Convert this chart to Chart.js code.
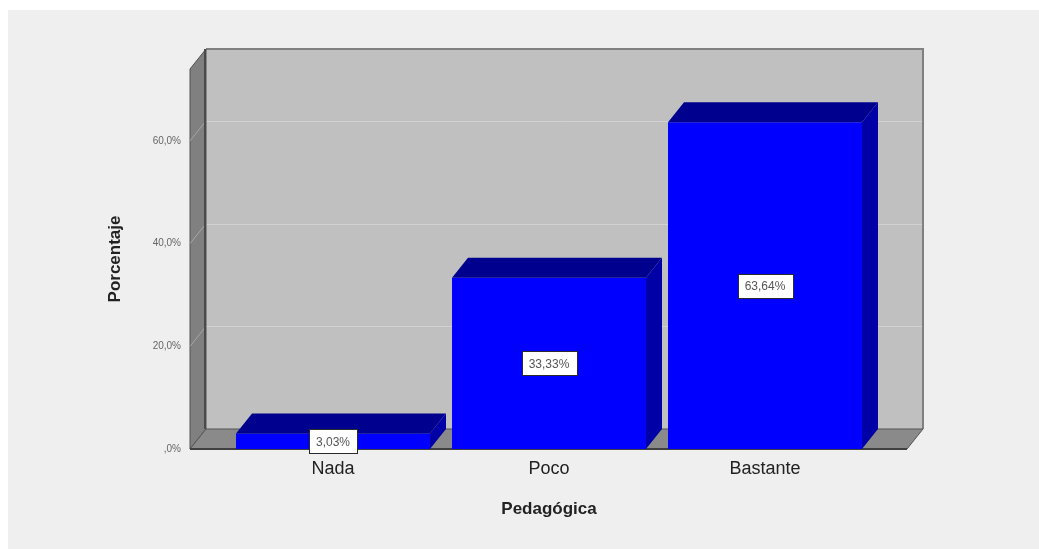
<!DOCTYPE html>
<html>
<head>
<meta charset="utf-8">
<script src="https://cdn.jsdelivr.net/npm/chart.js@4.4.0/dist/chart.umd.min.js"></script>
<style>
  html, body { margin: 0; padding: 0; background: #ffffff; overflow: hidden; }
  canvas { display: block; }
</style>
</head>
<body>
<canvas id="chart" width="1039" height="549"></canvas>
<script>
// Series data
const categories = ['Nada', 'Poco', 'Bastante'];
const percentages = [3.03, 33.33, 63.64];
const yTickValues = [0, 20, 40, 60];
const yTickLabels = [',0%', '20,0%', '40,0%', '60,0%'];
const yAxisMax = 74;

const FONT = '"Liberation Sans", Arial, sans-serif';
const DEPTH_X = 16;   // 3D extrusion, horizontal
const DEPTH_Y = 20;   // 3D extrusion, vertical
const SIDE_PAD_L = 35;
const SIDE_PAD_R = 34;

function formatPct(v) {
  return v.toFixed(2).replace('.', ',') + '%';
}

function poly(ctx, pts, fill, stroke) {
  ctx.beginPath();
  ctx.moveTo(pts[0][0], pts[0][1]);
  for (let i = 1; i < pts.length; i++) ctx.lineTo(pts[i][0], pts[i][1]);
  ctx.closePath();
  if (fill) { ctx.fillStyle = fill; ctx.fill(); }
  if (stroke) { ctx.strokeStyle = stroke; ctx.lineWidth = 1; ctx.stroke(); }
}

const box3d = {
  id: 'box3d',
  beforeDraw(chart) {
    const ctx = chart.ctx;
    ctx.save();
    ctx.fillStyle = '#ffffff';
    ctx.fillRect(0, 0, chart.width, chart.height);
    ctx.fillStyle = '#efefef';
    ctx.fillRect(8, 10, chart.width - 8, chart.height - 10);
    ctx.restore();
  },
  beforeDatasetsDraw(chart) {
    const ctx = chart.ctx;
    const ca = chart.chartArea;
    const y = chart.scales.y;
    const L = ca.left - SIDE_PAD_L, R = ca.right + SIDE_PAD_R;
    const B = y.getPixelForValue(0), T = y.getPixelForValue(yAxisMax);
    const dx = DEPTH_X, dy = DEPTH_Y;
    ctx.save();
    // back wall
    poly(ctx, [[L + dx, T - dy], [R + dx, T - dy], [R + dx, B - dy], [L + dx, B - dy]], '#c0c0c0', null);
    // grid lines on the back wall
    yTickValues.forEach(v => {
      if (v === 0) return;
      const yb = Math.round(y.getPixelForValue(v) - dy) + 0.5;
      ctx.strokeStyle = '#d2d2d2';
      ctx.lineWidth = 1;
      ctx.beginPath();
      ctx.moveTo(L + dx, yb); ctx.lineTo(R + dx, yb);
      ctx.stroke();
    });
    // wall top & right edges
    ctx.strokeStyle = '#808080';
    ctx.lineWidth = 2;
    ctx.beginPath();
    ctx.moveTo(L + dx, T - dy); ctx.lineTo(R + dx, T - dy); ctx.lineTo(R + dx, B - dy);
    ctx.stroke();
    // left side wall
    poly(ctx, [[L, B], [L, T], [L + dx, T - dy], [L + dx, B - dy]], '#808080', '#505050');
    yTickValues.forEach(v => {
      if (v === 0) return;
      const yf = y.getPixelForValue(v);
      ctx.strokeStyle = '#a6a6a6';
      ctx.lineWidth = 1;
      ctx.beginPath();
      ctx.moveTo(L, yf); ctx.lineTo(L + dx, yf - dy);
      ctx.stroke();
    });
    // inner corner edge
    ctx.strokeStyle = '#4a4a4a';
    ctx.lineWidth = 2;
    ctx.beginPath();
    ctx.moveTo(L + dx - 1, T - dy); ctx.lineTo(L + dx - 1, B - dy);
    ctx.stroke();
    // floor
    poly(ctx, [[L, B], [R, B], [R + dx, B - dy], [L + dx, B - dy]], '#8a8a8a', '#555555');
    ctx.strokeStyle = '#404040';
    ctx.lineWidth = 2;
    ctx.beginPath();
    ctx.moveTo(L, B); ctx.lineTo(R, B);
    ctx.stroke();
    ctx.restore();
  },
  afterDatasetsDraw(chart) {
    const ctx = chart.ctx;
    const meta = chart.getDatasetMeta(0);
    const dx = DEPTH_X, dy = DEPTH_Y;
    ctx.save();
    meta.data.forEach(bar => {
      const p = bar.getProps(['x', 'y', 'base', 'width'], true);
      const x0 = p.x - p.width / 2, x1 = p.x + p.width / 2;
      poly(ctx, [[x0, p.y], [x1, p.y], [x1 + dx, p.y - dy], [x0 + dx, p.y - dy]], '#00008e', null);
      poly(ctx, [[x1, p.y], [x1, p.base], [x1 + dx, p.base - dy], [x1 + dx, p.y - dy]], '#0000a6', null);
    });
    // value labels
    ctx.font = '12px ' + FONT;
    ctx.textAlign = 'center';
    ctx.textBaseline = 'middle';
    meta.data.forEach((bar, i) => {
      const p = bar.getProps(['x', 'y', 'base'], true);
      const text = formatPct(percentages[i]);
      const w = ctx.measureText(text).width + 14;
      const h = 24;
      const cx = p.x, cy = (p.y + p.base) / 2;
      const bx = Math.round(cx - w / 2) + 0.5, by = Math.round(cy - h / 2) + 0.5;
      ctx.fillStyle = '#ffffff';
      ctx.fillRect(bx, by, Math.round(w), h);
      ctx.strokeStyle = '#2a2a2a';
      ctx.lineWidth = 1;
      ctx.strokeRect(bx, by, Math.round(w), h);
      ctx.fillStyle = '#555555';
      ctx.fillText(text, cx, cy + 1);
    });
    ctx.restore();
  }
};

new Chart(document.getElementById('chart'), {
  type: 'bar',
  data: {
    labels: categories,
    datasets: [{
      data: percentages,
      backgroundColor: '#0000ff',
      borderWidth: 0,
      barPercentage: 0.898,
      categoryPercentage: 1.0
    }]
  },
  options: {
    responsive: false,
    animation: false,
    events: [],
    layout: { padding: { left: 101, right: 166, top: 69, bottom: 0 } },
    plugins: {
      legend: { display: false },
      tooltip: { enabled: false }
    },
    scales: {
      x: {
        offset: true,
        grid: { display: false, drawTicks: false },
        border: { display: false },
        ticks: { color: '#222222', padding: 9, font: { family: FONT, size: 18 } },
        title: {
          display: true, text: 'Pedagógica', color: '#222222',
          font: { family: FONT, size: 17, weight: 'bold' },
          padding: { top: 0, bottom: 29 }
        },
        afterFit(scale) { scale.height = 100; }
      },
      y: {
        min: 0,
        max: yAxisMax,
        grid: { display: false, drawTicks: false },
        border: { display: false },
        afterBuildTicks(scale) { scale.ticks = yTickValues.map(v => ({ value: v })); },
        ticks: {
          color: '#666666', padding: 44,
          font: { family: FONT, size: 10 },
          callback(value) {
            const i = yTickValues.indexOf(value);
            return i >= 0 ? yTickLabels[i] : '';
          }
        },
        title: {
          display: true, text: 'Porcentaje', color: '#222222',
          font: { family: FONT, size: 17, weight: 'bold' },
          padding: { top: 4, bottom: 20 }
        },
        afterFit(scale) { scale.width = 124; }
      }
    }
  },
  plugins: [box3d]
});
</script>
</body>
</html>
